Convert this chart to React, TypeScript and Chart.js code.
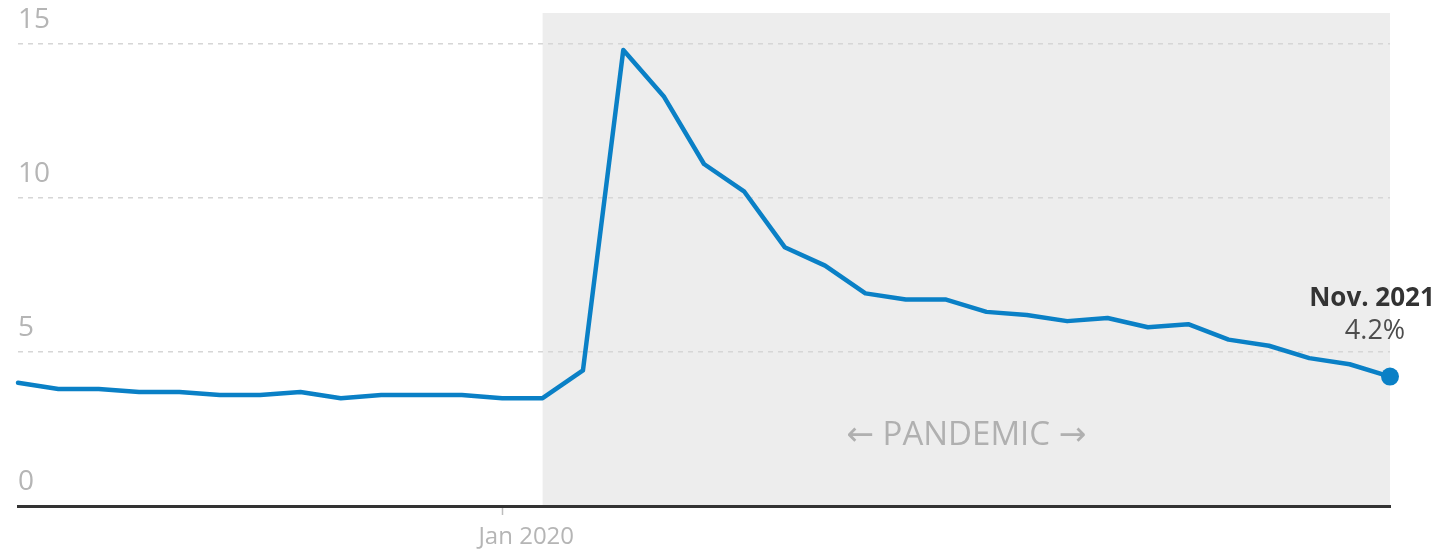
import React, { useEffect, useRef } from "react";
import { Chart, registerables } from "chart.js";

Chart.register(...registerables);

const months: string[] = [
  "Jan 2019", "Feb 2019", "Mar 2019", "Apr 2019", "May 2019", "Jun 2019",
  "Jul 2019", "Aug 2019", "Sep 2019", "Oct 2019", "Nov 2019", "Dec 2019",
  "Jan 2020", "Feb 2020", "Mar 2020", "Apr 2020", "May 2020", "Jun 2020",
  "Jul 2020", "Aug 2020", "Sep 2020", "Oct 2020", "Nov 2020", "Dec 2020",
  "Jan 2021", "Feb 2021", "Mar 2021", "Apr 2021", "May 2021", "Jun 2021",
  "Jul 2021", "Aug 2021", "Sep 2021", "Oct 2021", "Nov 2021",
];

const unemploymentRate: number[] = [
  4.0, 3.8, 3.8, 3.7, 3.7, 3.6, 3.6, 3.7, 3.5, 3.6, 3.6, 3.6,
  3.5, 3.5, 4.4, 14.8, 13.3, 11.1, 10.2, 8.4, 7.8, 6.9, 6.7, 6.7,
  6.3, 6.2, 6.0, 6.1, 5.8, 5.9, 5.4, 5.2, 4.8, 4.6, 4.2,
];

const yTickValues: number[] = [0, 5, 10, 15];
const xTickLabels: string[] = ["Jan 2020"];
const pandemicStart = "Feb 2020";
const pandemicLabel = "\u2190 PANDEMIC \u2192";
const pandemicLabelValue = 2.3;
const lastLabel = "Nov. 2021";
const lastValueLabel = "4.2%";

const FONT = "'Open Sans', 'DejaVu Sans', sans-serif";
const LINE_COLOR = "#0a80c6";
const GRAY_TEXT = "#b5b5b5";

const annotationPlugin = {
  id: "annotations",
  beforeDraw(chart: any) {
    const { ctx, chartArea, scales } = chart;
    const x = scales.x;
    const startX = x.getPixelForValue(months.indexOf(pandemicStart));
    ctx.save();
    ctx.fillStyle = "#ededed";
    ctx.fillRect(startX, chartArea.top, chartArea.right - startX, chartArea.bottom - chartArea.top);
    ctx.restore();
  },
  beforeDatasetsDraw(chart: any) {
    const { ctx, chartArea, scales } = chart;
    const startX = scales.x.getPixelForValue(months.indexOf(pandemicStart));
    const cx = (startX + chartArea.right) / 2;
    const cy = scales.y.getPixelForValue(pandemicLabelValue);
    ctx.save();
    ctx.font = `33px ${FONT}`;
    ctx.fillStyle = "#b0b0b0";
    ctx.textAlign = "center";
    ctx.textBaseline = "middle";
    ctx.fillText(pandemicLabel, cx, cy);
    ctx.restore();
  },
  afterDatasetsDraw(chart: any) {
    const { ctx, scales } = chart;
    const i = unemploymentRate.length - 1;
    const px = scales.x.getPixelForValue(i);
    const py = scales.y.getPixelForValue(unemploymentRate[i]);
    ctx.save();
    ctx.textAlign = "center";
    ctx.textBaseline = "alphabetic";
    ctx.fillStyle = "#333333";
    ctx.font = `bold 26px ${FONT}`;
    ctx.fillText(lastLabel, px - 18, py - 71);
    ctx.fillStyle = "#4d4d4d";
    ctx.font = `27px ${FONT}`;
    ctx.fillText(lastValueLabel, px - 15, py - 38);
    ctx.restore();
  },
};

export default function App() {
  const canvasRef = useRef<HTMLCanvasElement | null>(null);

  useEffect(() => {
    document.body.style.margin = "0";
    const canvas = canvasRef.current;
    if (!canvas) return;
    const lastIndex = unemploymentRate.length - 1;
    const chart = new Chart(canvas, {
      type: "line",
      data: {
        labels: months,
        datasets: [
          {
            data: unemploymentRate,
            borderColor: LINE_COLOR,
            backgroundColor: LINE_COLOR,
            borderWidth: 4.5,
            tension: 0,
            borderJoinStyle: "round",
            borderCapStyle: "round",
            pointRadius: (c: any) => (c.dataIndex === lastIndex ? 9 : 0),
            pointHoverRadius: 0,
            pointBorderWidth: 0,
            clip: false as any,
          },
        ],
      },
      plugins: [annotationPlugin],
      options: {
        animation: false,
        responsive: true,
        maintainAspectRatio: false,
        layout: { padding: { left: 18, right: 50, top: 13, bottom: 0 } },
        plugins: {
          legend: { display: false },
          tooltip: { enabled: false },
        },
        events: [],
        scales: {
          x: {
            type: "category",
            offset: false,
            afterFit: (s: any) => {
              s.height = 45;
              s.paddingLeft = 0;
              s.paddingRight = 0;
            },
            grid: {
              drawOnChartArea: false,
              drawTicks: true,
              tickLength: 9,
              tickWidth: 1.5,
              tickColor: (c: any) =>
                xTickLabels.includes(months[c.index]) ? "#bdbdbd" : "rgba(0,0,0,0)",
            },
            border: { display: true, color: "#333333", width: 3 },
            ticks: {
              autoSkip: false,
              maxRotation: 0,
              minRotation: 0,
              padding: 8,
              labelOffset: 24,
              color: GRAY_TEXT,
              font: { family: FONT, size: 24 },
              callback: (_v: any, i: number) =>
                xTickLabels.includes(months[i]) ? months[i] : "",
            },
          },
          y: {
            min: 0,
            max: 16,
            afterFit: (s: any) => {
              s.width = 0;
              s.paddingTop = 0;
              s.paddingBottom = 0;
            },
            afterBuildTicks: (s: any) => {
              s.ticks = yTickValues.map((v) => ({ value: v }));
            },
            grid: {
              drawTicks: false,
              color: (c: any) => (c.tick && c.tick.value === 0 ? "rgba(0,0,0,0)" : "#d6d6d6"),
              lineWidth: 1.5,
            },
            border: { display: false, dash: [5, 5] },
            ticks: {
              mirror: true,
              padding: 0,
              labelOffset: -24,
              color: GRAY_TEXT,
              font: { family: FONT, size: 28 },
            },
          },
        },
      },
    });
    return () => chart.destroy();
  }, []);

  return (
    <div style={{ position: "relative", width: 1440, height: 551 }}>
      <canvas ref={canvasRef} />
    </div>
  );
}
